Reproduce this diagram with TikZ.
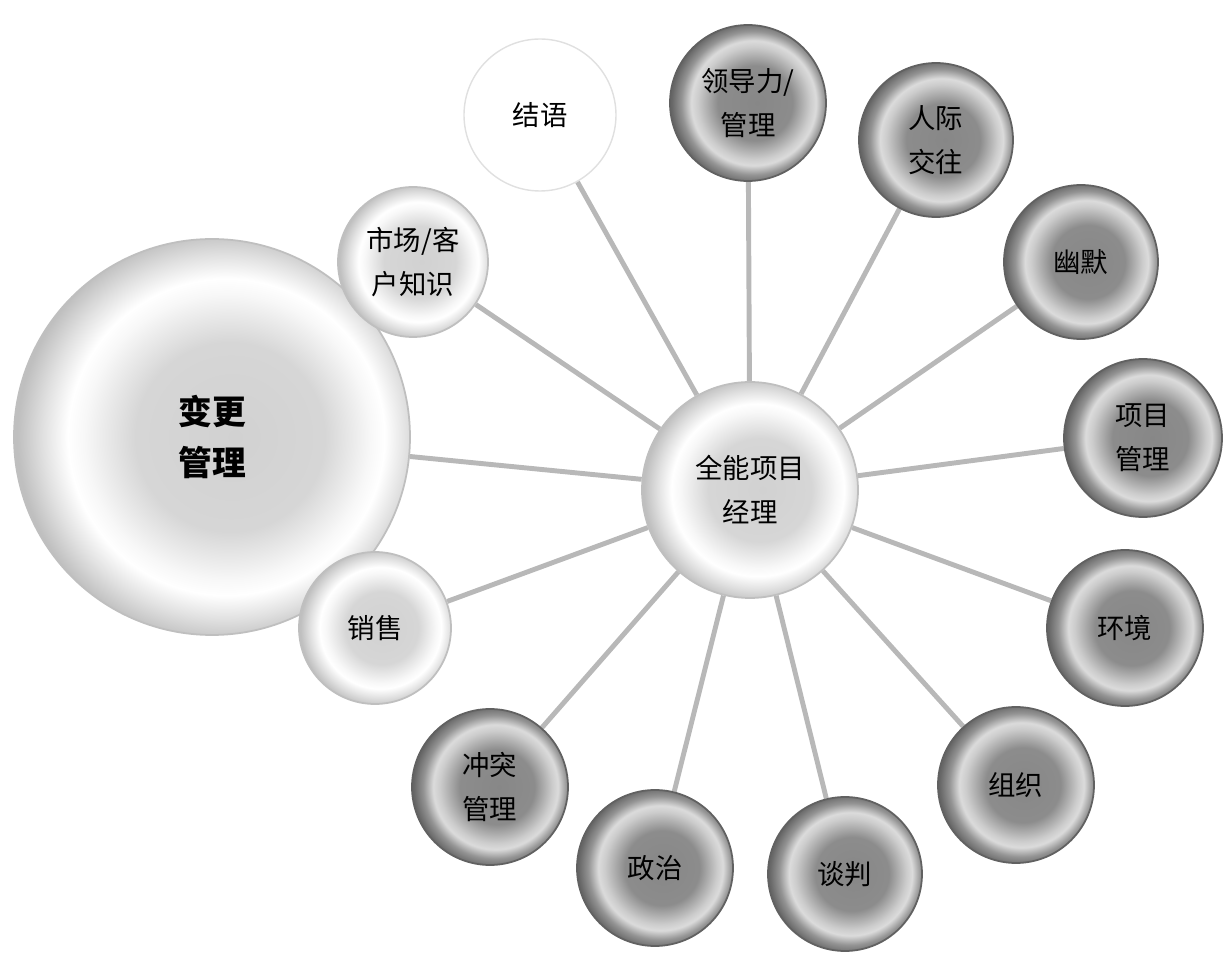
\documentclass[tikz,border=0pt]{standalone}
\usepackage{fontspec}
\newfontfamily\cjk{Noto Sans CJK SC}
\usetikzlibrary{backgrounds}
\pgfdeclareradialshading{rimdark}{\pgfpoint{3bp}{0bp}}{color(0bp)=(black!47); color(12bp)=(black!45); color(18bp)=(black!20); color(20bp)=(black!14); color(23bp)=(black!42); color(26bp)=(black!60); color(50bp)=(black!60)}
\pgfdeclareradialshading{rimlight}{\pgfpoint{3bp}{0bp}}{color(0bp)=(black!18); color(12bp)=(black!16); color(18bp)=(black!3); color(20bp)=(white); color(23bp)=(black!12); color(26bp)=(black!25); color(50bp)=(black!25)}
\begin{document}
\begin{tikzpicture}[x=0.1mm, y=-0.1mm,
  bub/.style={circle, align=center, inner sep=0pt,
              font=\cjk\fontsize{7.8}{12.5}\selectfont},
  dark/.style={bub, shading=rimdark, draw=black!62, line width=0.5pt, minimum size=15.6mm},
  light/.style={bub, shading=rimlight, draw=black!25, line width=0.5pt, minimum size=15.2mm},
  spoke/.style={draw=black!28, line width=1.4pt}]
\useasboundingbox (0,0) rectangle (1230,972);
% left side, light bubbles
\node[light, minimum size=39.6mm, font=\cjk\bfseries\fontsize{9.6}{14.5}\selectfont] (chg) at (212,437) {变更\\管理};
\node[light, minimum size=15mm] (mkt) at (413,262) {市场/客\\户知识};
\node[light] (sales) at (375,628) {销售};
\node[bub, fill=white, draw=black!12, minimum size=15.2mm] (concl) at (540,115) {结语};
\node[light, minimum size=21.6mm] (pm) at (750,490) {全能项目\\经理};
% ring of dark bubbles
\node[dark] (lead) at (748,103) {领导力/\\管理};
\node[dark, minimum size=15.4mm] (inter) at (936,140) {人际\\交往};
\node[dark, minimum size=15.4mm] (humor) at (1081,262) {幽默};
\node[dark, minimum size=15.8mm] (proj) at (1143,438) {项目\\管理};
\node[dark] (env) at (1125,628) {环境};
\node[dark] (org) at (1016,785) {组织};
\node[dark, minimum size=15.4mm] (nego) at (845,874) {谈判};
\node[dark] (pol) at (655,868) {政治};
\node[dark] (confl) at (490,787) {冲突\\管理};
% spokes
\begin{scope}[on background layer]
\foreach \n in {chg,mkt,sales,concl,lead,inter,humor,proj,env,org,nego,pol,confl}
  \draw[spoke] (pm) -- (\n);
\end{scope}
\end{tikzpicture}
\end{document}
